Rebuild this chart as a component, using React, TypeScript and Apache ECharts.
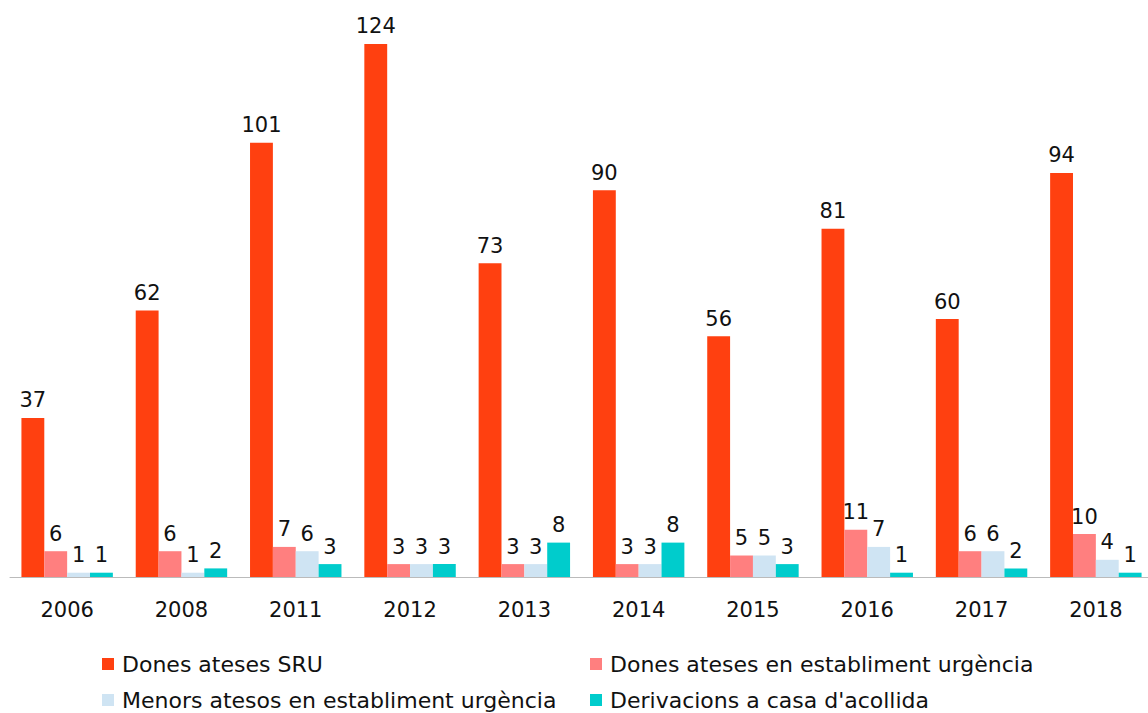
import React, { useEffect, useRef } from "react";
import * as echarts from "echarts";

const categories = ["2006", "2008", "2011", "2012", "2013", "2014", "2015", "2016", "2017", "2018"];
const seriesNames = [
  "Dones ateses SRU",
  "Dones ateses en establiment urgència",
  "Menors atesos en establiment urgència",
  "Derivacions a casa d'acollida",
];
const donesSRU = [37, 62, 101, 124, 73, 90, 56, 81, 60, 94];
const donesUrgencia = [6, 6, 7, 3, 3, 3, 5, 11, 6, 10];
const menorsUrgencia = [1, 1, 6, 3, 3, 3, 5, 7, 6, 4];
const derivacions = [1, 2, 3, 3, 8, 8, 3, 1, 2, 1];
const colors = ["#FF4010", "#FF7F7F", "#CFE4F3", "#00CCCC"];

const FONT = "DejaVu Sans";

export default function App() {
  const ref = useRef<HTMLDivElement>(null);
  useEffect(() => {
    if (!ref.current) return;
    const chart = echarts.init(ref.current, null, { renderer: "svg" });
    const values = [donesSRU, donesUrgencia, menorsUrgencia, derivacions];
    const legendPos = [
      { left: 102, top: 653 },
      { left: 590, top: 653 },
      { left: 102, top: 689 },
      { left: 590, top: 689 },
    ];
    chart.setOption({
      animation: false,
      grid: { left: 10, right: 0, top: 1, bottom: 713 - 577 },
      xAxis: {
        type: "category",
        data: categories,
        axisLine: { lineStyle: { color: "#BBBBBB", width: 1 } },
        axisTick: { length: 11, lineStyle: { color: "#BBBBBB" } },
        axisLabel: { color: "#111", fontFamily: FONT, fontSize: 21, margin: 22 },
      },
      yAxis: {
        type: "value",
        min: 0,
        max: 134,
        show: false,
        splitLine: { show: false },
      },
      legend: legendPos.map((p, i) => ({
        data: [seriesNames[i]],
        left: p.left,
        top: p.top,
        itemWidth: 12,
        itemHeight: 12,
        itemGap: 0,
        padding: 0,
        icon: "rect",
        textStyle: { fontFamily: FONT, fontSize: 22, color: "#111", padding: [0, 0, 0, 3] },
      })),
      series: values.map((v, i) => ({
        name: seriesNames[i],
        type: "bar",
        data: v,
        barGap: "0%",
        barCategoryGap: "20%",
        itemStyle: { color: colors[i] },
        label: {
          show: true,
          position: "top",
          distance: 7,
          color: "#111",
          fontFamily: FONT,
          fontSize: 21,
        },
      })),
    });
    return () => chart.dispose();
  }, []);
  return (
    <div
      ref={ref}
      style={{ position: "fixed", left: 0, top: 0, width: 1153, height: 713, background: "#fff" }}
    />
  );
}
